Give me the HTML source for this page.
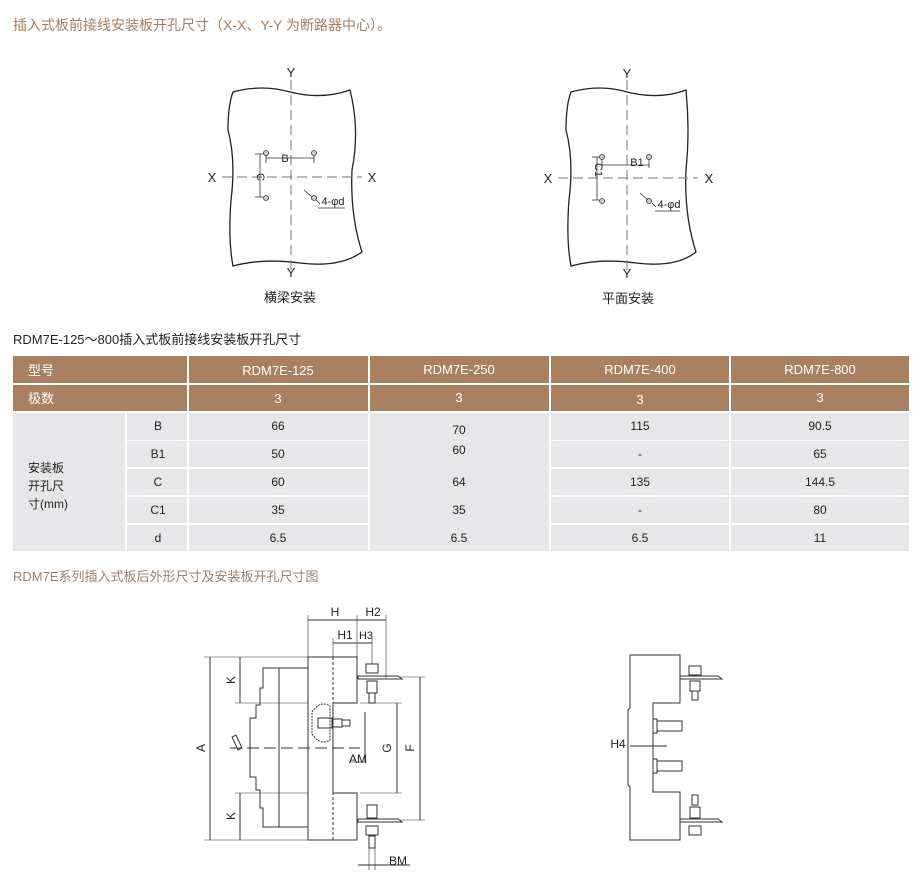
<!DOCTYPE html>
<html><head><meta charset="utf-8"><style>
body{margin:0;background:#fff;width:920px;height:891px;overflow:hidden;position:relative;font-family:"Liberation Sans","Noto Sans CJK SC",sans-serif}
svg{position:absolute;left:0;top:0}
</style></head><body>
<svg width="920" height="891" viewBox="0 0 920 891" font-family="Liberation Sans, Noto Sans CJK SC, sans-serif">
<text x="13" y="30" font-size="14" fill="#a47e62">插入式板前接线安装板开孔尺寸（X-X、Y-Y 为断路器中心）。</text>

<!-- diagram 1 -->
<g stroke="#222" fill="none">
<path d="M233 92 Q262 84 290 92 Q322 100 350 90 Q360 130 352 170 Q350 215 362 252 Q340 268 300 263 Q262 258 233 266 Q228 240 231 200 Q236 160 228 130 Q228 105 233 92Z" stroke-width="1.3"/>
<path d="M571 92 Q600 84 627 92 Q660 100 686 90 Q690 130 686 170 Q684 215 696 252 Q676 268 636 263 Q600 258 571 266 Q566 240 569 200 Q574 160 566 130 Q566 105 571 92Z" stroke-width="1.3"/>
</g>
<g stroke="#777" stroke-dasharray="10,5" stroke-width="1">
<line x1="291" y1="80" x2="291" y2="272"/><line x1="222" y1="177" x2="362" y2="177"/>
<line x1="627" y1="80" x2="627" y2="272"/><line x1="558" y1="178" x2="698" y2="178"/>
</g>
<g stroke="#333" fill="#ccc" stroke-width="0.8">
<circle cx="266" cy="153" r="2.5"/><circle cx="314" cy="153" r="2.5"/><circle cx="266" cy="198" r="2.5"/><circle cx="314" cy="198" r="2.5"/>
<circle cx="602" cy="157" r="2.5"/><circle cx="649" cy="157" r="2.5"/><circle cx="602" cy="201" r="2.5"/><circle cx="649" cy="201" r="2.5"/>
</g>
<g stroke="#333" stroke-width="0.8" fill="none">
<line x1="266" y1="158" x2="314" y2="158"/><line x1="266" y1="155" x2="266" y2="163"/><line x1="314" y1="155" x2="314" y2="163"/>
<line x1="260" y1="154" x2="260" y2="197"/><line x1="255" y1="154" x2="263" y2="154"/><line x1="255" y1="197" x2="263" y2="197"/>
<line x1="304" y1="190" x2="312" y2="197"/><line x1="316" y1="200" x2="320" y2="204"/><line x1="318" y1="208" x2="345" y2="208"/>
<line x1="602" y1="165" x2="649" y2="165"/><line x1="602" y1="159" x2="602" y2="168"/><line x1="649" y1="159" x2="649" y2="168"/>
<line x1="597" y1="157" x2="597" y2="200"/><line x1="592" y1="157" x2="599" y2="157"/><line x1="592" y1="200" x2="599" y2="200"/>
<line x1="640" y1="193" x2="648" y2="200"/><line x1="652" y1="203" x2="656" y2="207"/><line x1="655" y1="211" x2="680" y2="211"/>
</g>
<g font-size="13" fill="#222" text-anchor="middle">
<text x="291" y="77">Y</text><text x="291" y="277">Y</text><text x="212" y="182">X</text><text x="372" y="182">X</text>
<text x="627" y="78">Y</text><text x="627" y="278">Y</text><text x="548" y="183">X</text><text x="709" y="183">X</text>
<text x="285" y="162" font-size="11">B</text><text x="637" y="166" font-size="11">B1</text>
<text x="333" y="205" font-size="11">4-φd</text><text x="669" y="208" font-size="11">4-φd</text>
<text x="290" y="302">横梁安装</text><text x="628" y="303">平面安装</text>
</g>
<text x="0" y="0" font-size="11" fill="#222" transform="translate(257,177) rotate(90)" text-anchor="middle">C</text>
<text x="0" y="0" font-size="11" fill="#222" transform="translate(595,170) rotate(90)" text-anchor="middle">C1</text>

<text x="13" y="344" font-size="13" fill="#222">RDM7E-125～800插入式板前接线安装板开孔尺寸</text>

<!-- table -->
<g fill="#a98162">
<rect x="13" y="356" width="174" height="27"/><rect x="189" y="356" width="179" height="27"/><rect x="370" y="356" width="179" height="27"/><rect x="551" y="356" width="178" height="27"/><rect x="731" y="356" width="178" height="27"/>
<rect x="13" y="385" width="174" height="26"/><rect x="189" y="385" width="179" height="26"/><rect x="370" y="385" width="179" height="26"/><rect x="551" y="385" width="178" height="26"/><rect x="731" y="385" width="178" height="26"/>
</g>
<g fill="#e7e7e9">
<rect x="13" y="413" width="112" height="138"/>
<rect x="127" y="413" width="60" height="27"/><rect x="127" y="441" width="60" height="26"/><rect x="127" y="469" width="60" height="26"/><rect x="127" y="497" width="60" height="26"/><rect x="127" y="525" width="60" height="26"/>
<rect x="189" y="413" width="179" height="27"/><rect x="189" y="441" width="179" height="26"/><rect x="189" y="469" width="179" height="26"/><rect x="189" y="497" width="179" height="26"/><rect x="189" y="525" width="179" height="26"/>
<rect x="370" y="413" width="179" height="138"/>
<rect x="551" y="413" width="178" height="27"/><rect x="551" y="441" width="178" height="26"/><rect x="551" y="469" width="178" height="26"/><rect x="551" y="497" width="178" height="26"/><rect x="551" y="525" width="178" height="26"/>
<rect x="731" y="413" width="178" height="27"/><rect x="731" y="441" width="178" height="26"/><rect x="731" y="469" width="178" height="26"/><rect x="731" y="497" width="178" height="26"/><rect x="731" y="525" width="178" height="26"/>
</g>
<g font-size="13" fill="#fff" text-anchor="middle">
<text x="28" y="375" text-anchor="start">型号</text><text x="28" y="403" text-anchor="start">极数</text>
<text x="278" y="375">RDM7E-125</text><text x="459" y="374">RDM7E-250</text><text x="640" y="374">RDM7E-400</text><text x="820" y="374">RDM7E-800</text>
<text x="278" y="403">3</text><text x="459" y="402">3</text><text x="640" y="404">3</text><text x="820" y="402">3</text>
</g>
<g font-size="12" fill="#222" text-anchor="middle">
<text x="28" y="472" text-anchor="start">安装板</text><text x="28" y="490" text-anchor="start">开孔尺</text><text x="28" y="508" text-anchor="start">寸(mm)</text>
<text x="158" y="430">B</text><text x="158" y="458">B1</text><text x="158" y="486">C</text><text x="158" y="514">C1</text><text x="158" y="542">d</text>
<text x="278" y="430">66</text><text x="278" y="458">50</text><text x="278" y="486">60</text><text x="278" y="514">35</text><text x="278" y="542">6.5</text>
<text x="459" y="434">70</text><text x="459" y="454">60</text><text x="459" y="486">64</text><text x="459" y="514">35</text><text x="459" y="542">6.5</text>
<text x="640" y="430">115</text><text x="640" y="458">-</text><text x="640" y="486">135</text><text x="640" y="514">-</text><text x="640" y="542">6.5</text>
<text x="820" y="430">90.5</text><text x="820" y="458">65</text><text x="820" y="486">144.5</text><text x="820" y="514">80</text><text x="820" y="542">11</text>
</g>

<text x="13" y="581" font-size="13" fill="#a47e62">RDM7E系列插入式板后外形尺寸及安装板开孔尺寸图</text>

<!-- bottom left drawing -->
<g stroke="#333" stroke-width="1" fill="none">
<path d="M308 657 H357 V703 H333 V793 H357 V840 H308 Z"/>
<line x1="333" y1="657" x2="333" y2="840" stroke-dasharray="3,2"/>
<path d="M308 668 H263 V688 H260 V705 H256 V718 H250 V777 H256 V790 H260 V808 H263 V827 H308"/>
<line x1="279" y1="668" x2="279" y2="827"/>
<path d="M236 735 L242 748 L238 750 L232 737Z"/>
<line x1="230" y1="748" x2="360" y2="748" stroke-dasharray="12,5"/>
<path d="M312 712 Q320 700 330 706 L330 740 Q320 746 312 734Z" stroke-dasharray="2,1"/>
<rect x="318" y="718" width="14" height="10"/><rect x="332" y="719" width="10" height="8"/><rect x="342" y="720" width="8" height="6"/>
<!-- bolts -->
<rect x="366" y="664" width="12" height="9"/><path d="M358 676 H398 L402 679 H358Z"/><rect x="367" y="681" width="10" height="12"/><rect x="369" y="693" width="6" height="10"/>
<rect x="366" y="826" width="12" height="9"/><path d="M358 819 H398 L402 822 H358Z"/><rect x="367" y="805" width="10" height="13"/><rect x="369" y="836" width="6" height="12"/>
<!-- dims -->
<line x1="210" y1="657" x2="210" y2="840"/><line x1="204" y1="657" x2="308" y2="657" stroke-width="0.6"/><line x1="204" y1="840" x2="308" y2="840" stroke-width="0.6"/>
<line x1="240" y1="657" x2="240" y2="703"/><line x1="235" y1="703" x2="308" y2="703" stroke-width="0.6"/>
<line x1="240" y1="793" x2="240" y2="840"/><line x1="235" y1="793" x2="308" y2="793" stroke-width="0.6"/>
<line x1="308" y1="615" x2="308" y2="657" stroke-width="0.6"/><line x1="357" y1="615" x2="357" y2="657" stroke-width="0.6"/>
<line x1="308" y1="620" x2="386" y2="620"/><line x1="386" y1="615" x2="386" y2="678" stroke-width="0.6"/>
<line x1="333" y1="643" x2="372" y2="643"/><line x1="333" y1="638" x2="333" y2="657" stroke-width="0.6"/><line x1="372" y1="638" x2="372" y2="664" stroke-width="0.6"/>
<line x1="420" y1="677" x2="420" y2="820"/><line x1="400" y1="677" x2="425" y2="677" stroke-width="0.6"/><line x1="400" y1="820" x2="425" y2="820" stroke-width="0.6"/>
<line x1="397" y1="703" x2="397" y2="793"/><line x1="360" y1="703" x2="402" y2="703" stroke-width="0.6"/><line x1="360" y1="793" x2="402" y2="793" stroke-width="0.6"/>
<line x1="365" y1="712" x2="365" y2="762"/><line x1="350" y1="762" x2="366" y2="762" stroke-width="0.6"/>
<line x1="369" y1="845" x2="369" y2="870" stroke-width="0.6"/><line x1="375" y1="845" x2="375" y2="870" stroke-width="0.6"/><line x1="358" y1="865" x2="410" y2="865"/>
</g>
<g font-size="12" fill="#222" text-anchor="middle">
<text x="335" y="616">H</text><text x="373" y="616">H2</text><text x="345" y="639">H1</text><text x="366" y="639" font-size="11">H3</text>
<text x="358" y="763">AM</text><text x="398" y="865">BM</text>
</g>
<g font-size="12" fill="#222" text-anchor="middle">
<text transform="translate(205,748) rotate(-90)">A</text>
<text transform="translate(235,680) rotate(-90)">K</text>
<text transform="translate(235,816) rotate(-90)">K</text>
<text transform="translate(391,748) rotate(-90)">G</text>
<text transform="translate(414,748) rotate(-90)">F</text>
</g>

<!-- bottom right drawing -->
<g stroke="#333" stroke-width="1" fill="none">
<path d="M630 655 H680 V703 H653 V792 H680 V840 H630 V787 L628 785 V710 L630 708 Z"/>
<rect x="653" y="719" width="4" height="14"/><rect x="657" y="721" width="25" height="10"/>
<rect x="653" y="759" width="4" height="14"/><rect x="657" y="761" width="25" height="10"/>
<rect x="689" y="666" width="12" height="9"/><path d="M680 676 H718 L722 679 H680Z"/><rect x="690" y="681" width="10" height="10"/><rect x="692" y="691" width="6" height="9"/>
<rect x="689" y="826" width="12" height="9"/><path d="M680 819 H718 L722 822 H680Z"/><rect x="690" y="807" width="10" height="11"/><rect x="692" y="795" width="6" height="10"/>
<line x1="630" y1="746" x2="667" y2="746"/>
</g>
<text x="618" y="748" font-size="12" fill="#222" text-anchor="middle">H4</text>
</svg>
</body></html>
